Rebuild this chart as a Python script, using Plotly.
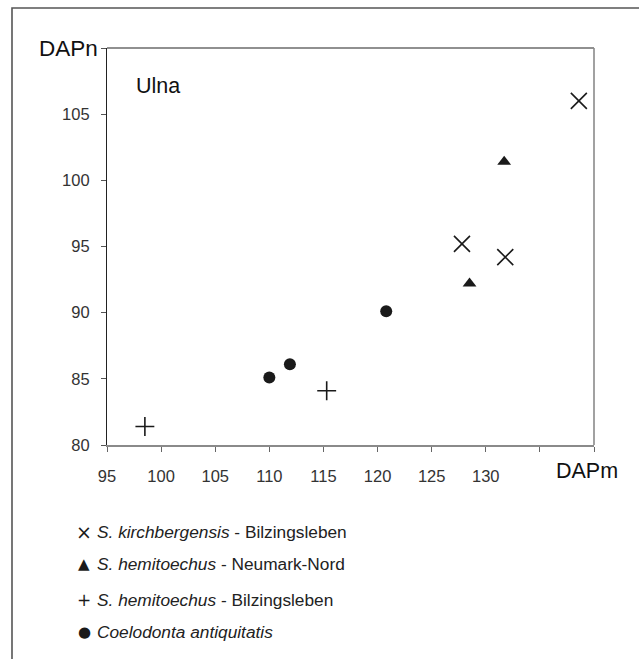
import plotly.graph_objects as go

# ---- data ----
x_tickvals = [95, 100, 105, 110, 115, 120, 125, 130, 135, 140]
x_ticktext = ["95", "100", "105", "110", "115", "120", "125", "130", "", ""]
y_tickvals = [80, 85, 90, 95, 100, 105, 110]
y_ticktext = ["80", "85", "90", "95", "100", "105", ""]

kirch_x = [138.6, 127.8, 131.8]
kirch_y = [106.0, 95.2, 94.2]
hemi_nn_x = [131.7, 128.5]
hemi_nn_y = [101.4, 92.2]
hemi_bil_x = [98.5, 115.3]
hemi_bil_y = [81.4, 84.1]
coel_x = [110.0, 111.9, 120.8]
coel_y = [85.1, 86.1, 90.1]

legend_symbols = ["\u00d7", "\u25b2", "+", "\u25cf"]
legend_symbol_sizes = [19, 15, 17, 15]
legend_labels = [
    "<i>S. kirchbergensis</i> - Bilzingsleben",
    "<i>S. hemitoechus</i> - Neumark-Nord",
    "<i>S. hemitoechus</i> - Bilzingsleben",
    "<i>Coelodonta antiquitatis</i>",
]

# ---- layout geometry (pixels) ----
W, H = 639, 659
L, R, T, B = 107, 45, 48, 214
PW, PH = W - L - R, H - T - B


def px(xp):
    return (xp - L) / PW


def py(yp):
    return (H - B - yp) / PH


FONT = "Liberation Sans"
INK = "#1a1a1a"

fig = go.Figure()
fig.add_trace(go.Scatter(x=kirch_x, y=kirch_y, mode="markers",
                         marker=dict(symbol="x-thin-open", size=16, color=INK,
                                     line=dict(width=1.6, color=INK)),
                         cliponaxis=False))
fig.add_trace(go.Scatter(x=hemi_nn_x, y=hemi_nn_y, mode="markers",
                         marker=dict(symbol="triangle-up", size=12, color=INK, line=dict(width=0)),
                         cliponaxis=False))
fig.add_trace(go.Scatter(x=hemi_bil_x, y=hemi_bil_y, mode="markers",
                         marker=dict(symbol="cross-thin-open", size=13.5, color=INK,
                                     line=dict(width=1.6, color=INK)),
                         cliponaxis=False))
fig.add_trace(go.Scatter(x=coel_x, y=coel_y, mode="markers",
                         marker=dict(symbol="circle", size=12, color=INK, line=dict(width=0)),
                         cliponaxis=False))

annotations = [
    dict(text="DAPn", x=px(100), y=py(48), xref="paper", yref="paper", xanchor="right",
         yanchor="middle", showarrow=False, font=dict(family=FONT, size=22.5, color="#111")),
    dict(text="DAPm", x=px(587), y=py(471), xref="paper", yref="paper", xanchor="center",
         yanchor="middle", showarrow=False, font=dict(family=FONT, size=21.5, color="#111")),
    dict(text="Ulna", x=px(134), y=py(86), xref="paper", yref="paper", xanchor="left",
         yanchor="middle", showarrow=False, font=dict(family=FONT, size=21.5, color="#111")),
]
legend_y = [532, 564, 600, 632]
for sym, ssz, lab, yy in zip(legend_symbols, legend_symbol_sizes, legend_labels, legend_y):
    annotations.append(dict(text=sym, x=px(84), y=py(yy), xref="paper", yref="paper",
                            xanchor="center", yanchor="middle", showarrow=False,
                            font=dict(family="DejaVu Sans", size=ssz, color=INK)))
    annotations.append(dict(text=lab, x=px(95), y=py(yy), xref="paper", yref="paper",
                            xanchor="left", yanchor="middle", showarrow=False,
                            font=dict(family=FONT, size=17.3, color="#222")))

shapes = [
    dict(type="line", xref="paper", yref="paper", x0=0, x1=1, y0=1, y1=1,
         line=dict(color="#222", width=1.2)),
    dict(type="line", xref="paper", yref="paper", x0=1, x1=1, y0=0, y1=1,
         line=dict(color="#8a8a8a", width=1.6)),
    dict(type="path", xref="paper", yref="paper",
         path=f"M {px(12)},{py(662)} L {px(12)},{py(8)} L {px(645)},{py(8)}",
         line=dict(color="#555", width=1.6)),
]

fig.update_layout(
    width=W, height=H,
    margin=dict(l=L, r=R, t=T, b=B, pad=0),
    paper_bgcolor="white", plot_bgcolor="white",
    showlegend=False,
    font=dict(family=FONT, size=16, color="#333"),
    annotations=annotations,
    shapes=shapes,
    xaxis=dict(range=[95, 140], tickvals=x_tickvals, ticktext=x_ticktext,
               showgrid=False, zeroline=False, showline=True, linecolor="#8a8a8a", linewidth=1.6,
               ticks="outside", ticklen=5, tickcolor="#666", tickwidth=1,
               ticklabelstandoff=10, tickfont=dict(family=FONT, size=16.5, color="#333")),
    yaxis=dict(range=[80, 110], tickvals=y_tickvals, ticktext=y_ticktext,
               showgrid=False, zeroline=False, showline=True, linecolor="#222", linewidth=1.2,
               ticks="outside", ticklen=5, tickcolor="#555", tickwidth=1,
               ticklabelstandoff=8, tickfont=dict(family=FONT, size=16.5, color="#333")),
)

fig.write_html("out.html")
